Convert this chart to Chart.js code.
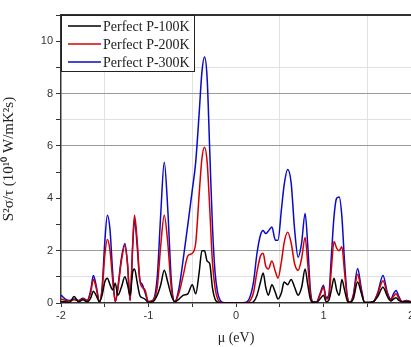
<!DOCTYPE html>
<html lang="en">
<head>
  <meta charset="UTF-8">
  <script src="https://cdn.jsdelivr.net/npm/chart.js"></script>
  <style>
    body { margin: 0; overflow: hidden; background: #fff; }
    #box { width: 430px; height: 347px; }
  </style>
</head>
<body>
  <div id="box"><canvas id="grafico" width="430" height="347"></canvas></div>

<script>
  // energia (eV)
  const mu = [-2.00, -1.95, -1.90, -1.85, -1.80, -1.75, -1.70, -1.66, -1.63, -1.60, -1.56, -1.53, -1.50, -1.47, -1.44, -1.41, -1.38, -1.35, -1.31, -1.27,
    -1.24, -1.21, -1.18, -1.16, -1.13, -1.10, -1.07, -1.04, -1.00, -0.95, -0.90, -0.86, -0.82, -0.78, -0.74, -0.70, -0.65, -0.60, -0.55, -0.50,
    -0.46, -0.42, -0.39, -0.36, -0.33, -0.30, -0.27, -0.24, -0.21, -0.18, -0.15, -0.10, 0.00, 0.10, 0.15, 0.20, 0.24, 0.28, 0.31, 0.34,
    0.37, 0.41, 0.45, 0.48, 0.52, 0.55, 0.59, 0.63, 0.67, 0.71, 0.75, 0.79, 0.82, 0.85, 0.88, 0.92, 0.96, 1.00, 1.03, 1.06,
    1.09, 1.12, 1.15, 1.18, 1.21, 1.24, 1.27, 1.30, 1.34, 1.39, 1.43, 1.47, 1.52, 1.57, 1.62, 1.68, 1.73, 1.77, 1.80, 1.83,
    1.86, 1.90, 1.95, 2.00];

  const p100 = [0.05, 0.05, 0.03, 0.25, 0.05, 0.12, 0.05, 0.20, 0.45, 0.30, 0.05, 0.30, 0.80, 0.95, 0.70, 0.50, 0.75, 0.30, 0.60, 1.00,
    0.70, 0.30, 1.20, 1.30, 0.80, 0.30, 0.20, 0.15, 0.02, 0.05, 0.30, 0.70, 1.25, 0.80, 0.30, 0.05, 0.15, 0.30, 0.35, 0.70,
    0.35, 1.20, 2.00, 2.00, 1.60, 1.50, 0.60, 0.15, 0.03, 0, 0, 0, 0, 0, 0, 0.05, 0.30, 0.80, 1.15, 0.60,
    0.30, 0.70, 0.40, 0.15, 0.40, 0.80, 0.70, 0.90, 0.60, 0.30, 0.60, 1.30, 0.70, 0.15, 0.02, 0.02, 0.15, 0.30, 0.05, 0.10,
    0.50, 0.95, 0.50, 0.30, 0.90, 0.50, 0.10, 0.02, 0.15, 0.80, 0.40, 0.02, 0.02, 0.05, 0.25, 0.60, 0.25, 0.08, 0.15, 0.20,
    0.10, 0.05, 0.05, 0.03];

  const p200 = [0.15, 0.10, 0.08, 0.12, 0.08, 0.15, 0.10, 0.40, 0.90, 0.60, 0.05, 0.50, 1.80, 2.43, 2.00, 0.90, 0.05, 0.55, 1.60, 2.20,
    1.50, 0.10, 2.30, 3.35, 2.40, 0.90, 0.60, 0.50, 0.05, 0.10, 0.60, 2.20, 3.35, 2.30, 0.60, 0.05, 0.40, 1.10, 1.80, 1.90,
    2.30, 4.20, 5.50, 5.95, 5.40, 3.60, 1.60, 0.60, 0.15, 0.03, 0, 0, 0, 0, 0.05, 0.40, 1.20, 1.80, 1.90, 1.40,
    1.30, 1.60, 1.20, 0.95, 1.60, 2.30, 2.70, 2.30, 1.50, 1.25, 1.70, 2.50, 1.50, 0.35, 0.03, 0.03, 0.30, 0.60, 0.15, 0.20,
    1.30, 2.35, 2.10, 2.00, 2.15, 1.20, 0.25, 0.02, 0.25, 1.10, 0.50, 0.02, 0.02, 0.05, 0.35, 0.85, 0.35, 0.12, 0.25, 0.35,
    0.18, 0.05, 0.08, 0.05];

  const p300 = [0.30, 0.15, 0.10, 0.15, 0.10, 0.18, 0.10, 0.50, 1.05, 0.70, 0.05, 0.60, 2.30, 3.35, 2.80, 1.20, 0.05, 0.60, 1.70, 2.27,
    1.50, 0.10, 2.20, 3.20, 2.20, 0.90, 0.70, 0.40, 0.05, 0.10, 1.00, 3.40, 5.38, 3.60, 0.90, 0.05, 0.60, 1.75, 3.00, 4.30,
    5.40, 7.30, 8.80, 9.40, 8.60, 5.80, 3.00, 1.20, 0.40, 0.10, 0.02, 0, 0, 0.02, 0.15, 0.80, 1.90, 2.60, 2.77, 2.65,
    2.75, 2.90, 2.40, 2.40, 3.60, 4.50, 5.10, 4.60, 2.80, 1.75, 2.30, 3.42, 2.20, 0.50, 0.05, 0.05, 0.35, 0.68, 0.20, 0.30,
    1.80, 3.30, 4.00, 4.05, 3.30, 1.60, 0.30, 0.02, 0.30, 1.32, 0.60, 0.02, 0.02, 0.05, 0.40, 1.05, 0.40, 0.15, 0.35, 0.48,
    0.25, 0.05, 0.10, 0.05];

  const series = ['Perfect P-100K', 'Perfect P-200K', 'Perfect P-300K'];
  const cores = ['#000000', '#d40000', '#0a0ac8'];
  const yTicks = [0, 2, 4, 6, 8, 10];
  const xTicks = [-2, -1, 0, 1, 2];

  function pontos(ys) {
    return mu.map((x, i) => ({ x: x, y: ys[i] }));
  }

  // moldura do grafico + legenda com borda
  const moldura = {
    id: 'moldura',
    afterDatasetsDraw(chart) {
      const ctx = chart.ctx;
      const a = chart.chartArea;
      ctx.save();
      ctx.strokeStyle = '#333';
      ctx.lineWidth = 1.8;
      ctx.beginPath();
      ctx.moveTo(a.left, a.top);
      ctx.lineTo(a.right, a.top);
      ctx.stroke();

      const lx = a.left, ly = a.top, lw = 133, lh = 56;
      ctx.fillStyle = '#fff';
      ctx.fillRect(lx, ly, lw, lh);
      ctx.lineWidth = 1;
      ctx.strokeStyle = '#222';
      ctx.strokeRect(lx + 0.5, ly + 0.5, lw, lh);
      ctx.font = '14px "Liberation Serif"';
      ctx.textBaseline = 'middle';
      chart.data.datasets.forEach((ds, i) => {
        const yy = ly + 11 + i * 18;
        ctx.strokeStyle = ds.borderColor;
        ctx.lineWidth = 1.6;
        ctx.beginPath();
        ctx.moveTo(lx + 7, yy);
        ctx.lineTo(lx + 40, yy);
        ctx.stroke();
        ctx.fillStyle = '#222';
        ctx.fillText(ds.label, lx + 42, yy + 1);
      });
      ctx.restore();
    }
  };

  const grafico = new Chart(document.getElementById('grafico'), {
    type: 'line',
    data: {
      datasets: series.map((nome, i) => ({
        label: nome,
        data: pontos([p100, p200, p300][i]),
        borderColor: cores[i],
        borderWidth: 1.5,
        pointRadius: 0,
        cubicInterpolationMode: 'monotone',
        fill: false
      }))
    },
    options: {
      responsive: false,
      animation: false,
      layout: { padding: { top: 15, right: 19, left: 0, bottom: 0 } },
      plugins: {
        legend: { display: false },
        tooltip: { enabled: false }
      },
      scales: {
        x: {
          type: 'linear',
          min: -2,
          max: 2,
          ticks: {
            stepSize: 0.5,
            autoSkip: false,
            maxRotation: 0,
            color: '#333',
            font: { family: '"Liberation Sans"', size: 11 },
            padding: 2,
            callback: (v) => xTicks.includes(v) ? String(v) : ''
          },
          grid: {
            color: (c) => Number.isInteger(c.tick.value) ? 'rgba(0,0,0,0)' : '#e2e2e2',
            tickColor: '#333',
            tickLength: 4
          },
          border: { color: '#333', width: 1.5 },
          title: {
            display: true,
            text: 'μ (eV)',
            color: '#222',
            font: { family: '"Liberation Serif"', size: 14 },
            padding: { top: 1, bottom: 0 }
          },
          afterFit(scale) { scale.height = 44; }
        },
        y: {
          min: 0,
          max: 11,
          ticks: {
            stepSize: 1,
            autoSkip: false,
            color: '#333',
            font: { family: '"Liberation Sans"', size: 11 },
            padding: 3,
            callback: (v) => yTicks.includes(v) ? String(v) : ''
          },
          grid: {
            color: (c) => {
              const v = c.tick.value;
              if (v === 2 || v === 6 || v === 8) return '#9a9a9a';
              if (v === 1 || v === 7 || v === 9) return '#e0e0e0';
              return 'rgba(0,0,0,0)';
            },
            tickColor: '#333',
            tickLength: 5
          },
          border: { color: '#333', width: 1.5 },
          title: {
            display: true,
            text: 'S²σ/τ (10¹⁰ W/mK²s)',
            color: '#222',
            font: { family: '"Liberation Serif"', size: 15 },
            padding: { top: 0, bottom: 4 }
          },
          afterFit(scale) { scale.width = 61; }
        }
      }
    },
    plugins: [moldura]
  });
</script>
</body>
</html>
